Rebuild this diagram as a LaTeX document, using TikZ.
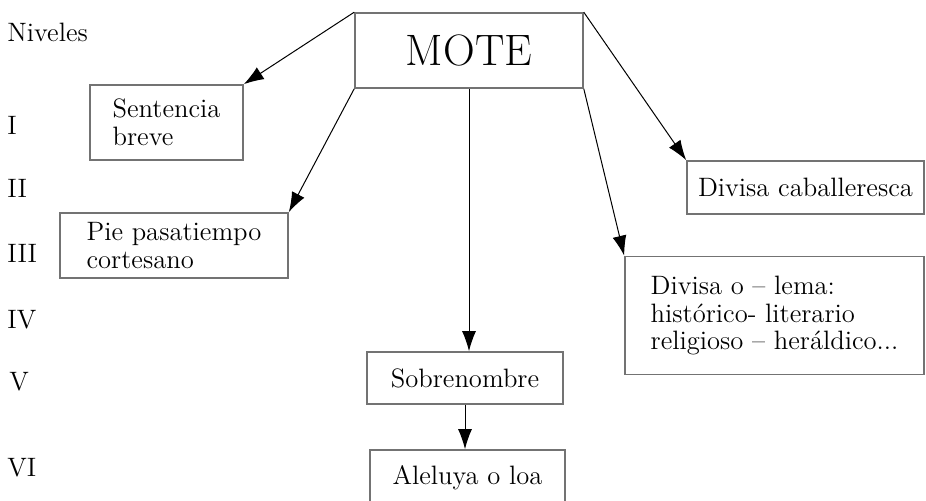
\documentclass[tikz,border=0pt]{standalone}
\usepackage{tikz}
\usetikzlibrary{arrows.meta}

\tikzset{
  box/.style={draw=black!55, line width=0.8pt, align=left, inner sep=0pt},
  arr/.style={-{Latex[length=10pt,width=7pt]}, line width=0.5pt},
  nivel/.style={anchor=west, inner sep=0pt}
}

\begin{document}
\begin{tikzpicture}[x=0.5pt, y=-0.5pt, font=\fontsize{13.3}{13.8}\selectfont]
    \useasboundingbox (0,0) rectangle (926,500);
    % niveles
    \node[nivel] (niv) at (7,32)  {Niveles};
    \node[nivel] (n1)  at (7,125) {I};
    \node[nivel] (n2)  at (7,188) {II};
    \node[nivel] (n3)  at (7,253) {III};
    \node[nivel] (n4)  at (7,320) {IV};
    \node[nivel] (n5)  at (9,382) {V};
    \node[nivel] (n6)  at (7,468) {VI};
    % cajas
    \node[box, minimum width=114pt, minimum height=37.5pt, font=\fontsize{22}{26}\selectfont] (mote) at (469,50.5) {MOTE};
    \node[box, minimum width=76.5pt, minimum height=37.5pt] (sent) at (166.5,122.5) {Sentencia\\breve};
    \node[box, minimum width=114pt, minimum height=32.5pt] (pie) at (174,245.5) {Pie pasatiempo\\cortesano};
    \node[box, minimum width=118.5pt, minimum height=26.5pt] (cab) at (805.5,187.5) {Divisa caballeresca};
    \node[box, minimum width=149.5pt, minimum height=59pt] (lema) at (774.5,315.5) {Divisa o -- lema:\\histórico- literario\\religioso -- heráldico...};
    \node[box, minimum width=98pt, minimum height=26pt] (sobre) at (465,378) {Sobrenombre};
    \node[box, minimum width=97.5pt, minimum height=28pt] (alel) at (467.5,478) {Aleluya o loa};
    % flechas
    \draw[arr] (mote.north west) -- (sent.north east);
    \draw[arr] (mote.south west) -- (pie.north east);
    \draw[arr] (mote.south) -- (mote.south |- sobre.north);
    \draw[arr] (mote.south east) -- (lema.north west);
    \draw[arr] (mote.north east) -- (cab.north west);
    \draw[arr] (sobre.south) -- (alel.north -| sobre.south);
\end{tikzpicture}
\end{document}
